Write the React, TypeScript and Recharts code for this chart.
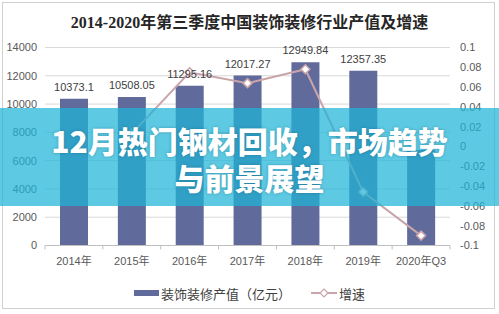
import React from "react"
import { ComposedChart, Bar, Line, XAxis, YAxis, CartesianGrid, LabelList, Legend } from "recharts"

const categories = ["2014年", "2015年", "2016年", "2017年", "2018年", "2019年", "2020年Q3"]
const outputValues = [10373.1, 10508.05, 11295.16, 12017.27, 12949.84, 12357.35, 6750]
const growthValues: (number | null)[] = [null, 0.013, 0.075, 0.064, 0.078, -0.046, -0.09]
const leftTicks = [0, 2000, 4000, 6000, 8000, 10000, 12000, 14000]
const rightTicks = [-0.1, -0.08, -0.06, -0.04, -0.02, 0, 0.02, 0.04, 0.06, 0.08, 0.1]
const barLabels = ["10373.1", "10508.05", "11295.16", "12017.27", "12949.84", "12357.35", ""]
const bannerLines = ["12月热门钢材回收，市场趋势", "与前景展望"]

const data = categories.map((name, i) => ({
  name,
  output: outputValues[i],
  growth: growthValues[i],
  label: barLabels[i],
}))

const BAR_COLOR = "#606b9c"
const LINE_COLOR = "#c9a5aa"
const TICK_COLOR = "#595959"
const FONT = '"Liberation Sans", Arial, "Noto Sans CJK SC", sans-serif'
const BAND = 405 / 7

const Diamond = (props: any) => {
  const { cx, cy, index } = props
  if (cx == null || cy == null || props.value == null) return <g key={`d-${index}`} />
  const r = 4.5
  return (
    <path
      key={`d-${index}`}
      d={`M${cx},${cy - r} L${cx + r},${cy} L${cx},${cy + r} L${cx - r},${cy} Z`}
      fill="#fff"
      stroke={LINE_COLOR}
      strokeWidth={1.5}
    />
  )
}

const CategoryTick = (props: any) => {
  const { x, y, payload, index } = props
  const axisY = y - 8
  return (
    <g>
      <line x1={x - BAND / 2} x2={x - BAND / 2} y1={axisY} y2={axisY + 4} stroke="#bfbfbf" />
      {index === categories.length - 1 && (
        <line x1={x + BAND / 2} x2={x + BAND / 2} y1={axisY} y2={axisY + 4} stroke="#bfbfbf" />
      )}
      <text x={x} y={y + 11} textAnchor="middle" fill={TICK_COLOR} fontSize={11} fontFamily={FONT}>
        {payload.value}
      </text>
    </g>
  )
}

const LegendContent = () => (
  <div style={{ display: "flex", justifyContent: "center", alignItems: "center", height: 20, fontFamily: '"Noto Sans CJK SC", sans-serif', fontSize: 13, color: "#404040" }}>
    <span style={{ display: "inline-block", width: 25, height: 6, background: BAR_COLOR, marginRight: 2 }} />
    <span>装饰装修产值（亿元）</span>
    <svg width={26} height={12} style={{ marginLeft: 20, marginRight: 2 }}>
      <line x1={0} x2={26} y1={6} y2={6} stroke={LINE_COLOR} strokeWidth={2} />
      <path d="M13,2 L17,6 L13,10 L9,6 Z" fill="#fff" stroke={LINE_COLOR} strokeWidth={1.2} />
    </svg>
    <span>增速</span>
  </div>
)

const bannerText: React.CSSProperties = {
  position: "absolute",
  left: 0,
  width: 499,
  height: 30,
  textAlign: "center",
  fontFamily: '"Noto Sans CJK SC", sans-serif',
  fontWeight: 900,
  fontSize: 30,
  lineHeight: "30px",
  color: "#fff",
  textShadow: "0 0 3px rgba(0,60,90,0.35)",
}

export default function App() {
  return (
    <div style={{ position: "relative", width: 499, height: 314, background: "#fff", overflow: "hidden" }}>
      <style>{`body{margin:0}`}</style>
      <div style={{ position: "absolute", left: 2, top: 2, width: 491, height: 305, border: "1px solid #d0d0d0" }} />
      <div
        style={{
          position: "absolute",
          top: 12,
          left: 0,
          width: 499,
          textAlign: "center",
          fontFamily: '"Liberation Serif", "Noto Sans CJK SC", serif',
          fontWeight: "bold",
          fontSize: 16,
          color: "#262626",
          lineHeight: "22px",
        }}
      >
        2014-2020年第三季度中国装饰装修行业产值及增速
      </div>
      <ComposedChart width={499} height={314} data={data} margin={{ top: 47.5, right: 0, bottom: 11, left: 0 }}>
        <CartesianGrid yAxisId="left" vertical={false} stroke="#d9d9d9" />
        <XAxis
          dataKey="name"
          height={37.5}
          axisLine={{ stroke: "#bfbfbf" }}
          tickLine={false}
          interval={0}
          tick={<CategoryTick />}
        />
        <YAxis
          yAxisId="left"
          width={45}
          domain={[0, 14000]}
          ticks={leftTicks}
          axisLine={false}
          tickLine={false}
          tick={{ fill: TICK_COLOR, fontSize: 11, fontFamily: FONT }}
        />
        <YAxis
          yAxisId="right"
          orientation="right"
          width={49}
          domain={[-0.1, 0.1]}
          ticks={rightTicks}
          axisLine={false}
          tickLine={false}
          tickMargin={4}
          tickFormatter={(v: number) => String(v)}
          tick={{ fill: TICK_COLOR, fontSize: 11, fontFamily: FONT }}
        />
        <Legend verticalAlign="bottom" height={20} content={<LegendContent />} />
        <Bar yAxisId="left" dataKey="output" fill={BAR_COLOR} barSize={28} isAnimationActive={false} legendType="rect">
          <LabelList dataKey="label" position="top" offset={8} fill="#404040" fontSize={11} fontFamily={FONT} />
        </Bar>
        <Line
          yAxisId="right"
          dataKey="growth"
          stroke={LINE_COLOR}
          strokeWidth={2}
          dot={<Diamond />}
          activeDot={false}
          isAnimationActive={false}
        />
      </ComposedChart>
      <div
        style={{
          position: "absolute",
          left: 0,
          top: 108,
          width: 499,
          height: 98,
          background: "rgba(30, 180, 215, 0.72)",
        }}
      />
      <div style={{ ...bannerText, top: 125 }}>{bannerLines[0]}</div>
      <div style={{ ...bannerText, top: 162 }}>{bannerLines[1]}</div>
    </div>
  )
}
